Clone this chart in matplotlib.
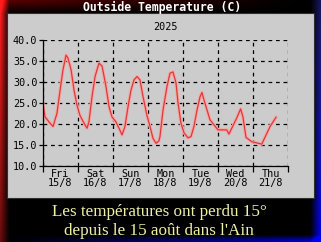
import numpy as np
import matplotlib
matplotlib.use("Agg")
from matplotlib import pyplot as plt
from matplotlib.patches import Rectangle

# hours since Fri 15/8 00:00 and outside temperature (C)
hours = [0, 1.4, 4.8, 6.9, 9.6, 11.7, 13.7, 15.8, 17.1, 19.2, 21.3, 23.3,
         25.4, 28.1, 30.2, 31.5, 33.6, 35.7, 38.4, 40.5, 43.2, 45.3, 47.3,
         50.0, 52.1, 54.2, 56.2, 58.3, 60.3, 62.4, 64.5, 66.5, 68.6, 71.3,
         73.4, 75.4, 77.5, 79.5, 80.2, 82.3, 85.0, 87.1, 89.1, 91.2, 92.6,
         94.6, 96.7, 99.4, 101.5, 103.5, 105.6, 107.7, 109.0, 110.4, 112.5,
         114.5, 120.0, 126.0, 127.5, 132.8, 135.5, 137.1, 139.2, 143.1,
         150.0, 155.7, 159.8]
temps = [24.8, 21.7, 20.2, 19.4, 22.6, 28.0, 32.9, 36.4, 35.7, 33.0, 28.0, 24.5,
         22.0, 20.2, 19.0, 20.5, 26.5, 31.3, 34.5, 33.8, 28.9, 24.1, 21.7,
         20.5, 19.0, 17.4, 19.4, 24.1, 28.0, 30.5, 31.3, 30.5, 26.5, 22.0,
         19.4, 16.6, 15.4, 16.0, 17.0, 23.3, 28.9, 32.1, 32.4, 29.8, 25.0,
         20.2, 17.9, 16.7, 17.0, 19.4, 23.3, 26.5, 27.5, 25.7, 23.3,
         21.0, 18.6, 18.6, 17.6, 21.4, 23.6, 21.7, 16.8, 15.8,
         15.2, 19.4, 21.6]
day_labels = ["Fri\n15/8", "Sat\n16/8", "Sun\n17/8", "Mon\n18/8",
              "Tue\n19/8", "Wed\n20/8", "Thu\n21/8"]
y_ticks = [10, 15, 20, 25, 30, 35, 40]

W, H = 321, 242
fig = plt.figure(figsize=(W / 100, H / 100), dpi=100)

# background: black with red left edge, blue right/bottom edge
xx = np.arange(W)[None, :] * np.ones((H, 1))
yy = np.arange(H)[:, None] * np.ones((1, W))
bg = np.zeros((H, W, 3))
red = np.clip(1 - xx / 9, 0, 1) * (1 - 0.6 * yy / H)
red_top = np.clip(1 - yy / 13, 0, 1) * np.clip(1 - xx / 300, 0, 1) * 0.35
bg[..., 0] = np.clip(red + red_top, 0, 1)
bg[..., 1] = red * 0.12
bg[..., 2] = red * 0.12
blue = np.clip((xx - 310) / 11, 0, 1) * (0.4 + 0.6 * yy / H)
blue_b = np.clip((yy - 234) / 8, 0, 1) * np.clip(xx / W, 0, 1)
b = np.clip(blue + blue_b, 0, 1)
bg[..., 0] += b * 0.25 * (1 - yy / H)
bg[..., 1] += b * 0.25 * (1 - yy / H)
bg[..., 2] += b
bg = np.clip(bg, 0, 1)
bax = fig.add_axes([0, 0, 1, 1])
bax.imshow(bg, aspect="auto", extent=[0, W, H, 0])
bax.set_xlim(0, W)
bax.set_ylim(H, 0)
bax.axis("off")
bax.add_patch(Rectangle((7, 13), 307, 185, facecolor="#cccccc",
                        edgecolor="#303030", lw=0.8))
bax.text(162, 7, "Outside Temperature (C)", color="white", ha="center",
         va="center", family="DejaVu Sans Mono", weight="bold", fontsize=8.3)
bax.text(165, 27, "2025", color="black", ha="center", va="center",
         family="DejaVu Sans Mono", fontsize=7.3)
bax.text(159, 212, "Les températures ont perdu 15°", color="#f0f0a8",
         ha="center", va="center", family="Liberation Serif", fontsize=12.3)
bax.text(159, 231, "depuis le 15 août dans l'Ain", color="#f0f0a8",
         ha="center", va="center", family="Liberation Serif", fontsize=12.3)

ax = fig.add_axes([43 / W, 1 - 166 / H, 245 / W, 126 / H])
ax.patch.set_alpha(0)
ax.plot(hours, temps, color="#f4a8a8", lw=2.4, solid_joinstyle="round")
ax.plot(hours, temps, color="#e03838", lw=0.9)
ax.set_xlim(0, 168)
ax.set_ylim(10, 40)
ax.set_yticks(y_ticks)
ax.set_yticklabels([f"{v:.1f}" for v in y_ticks], family="DejaVu Sans Mono",
                   fontsize=7.3)
ax.set_xticks(np.arange(0, 169, 24))
ax.set_xticklabels([])
ax.set_xticks(np.arange(12, 168, 24), minor=True)
ax.set_xticklabels(day_labels, minor=True, family="DejaVu Sans Mono",
                   fontsize=7.3, linespacing=0.9)
ax.tick_params(axis="x", which="minor", length=0, pad=2)
ax.tick_params(axis="x", which="major", length=4, width=0.9, direction="out")
ax.tick_params(axis="y", length=3, width=0.9, direction="out", pad=1)
ax.grid(True, which="major", color="black", lw=0.9, ls=(0, (3, 3)))
for s in ["top", "right"]:
    ax.spines[s].set_visible(False)
for s in ["left", "bottom"]:
    ax.spines[s].set_linewidth(0.9)

plt.savefig("out.png", dpi=100)
